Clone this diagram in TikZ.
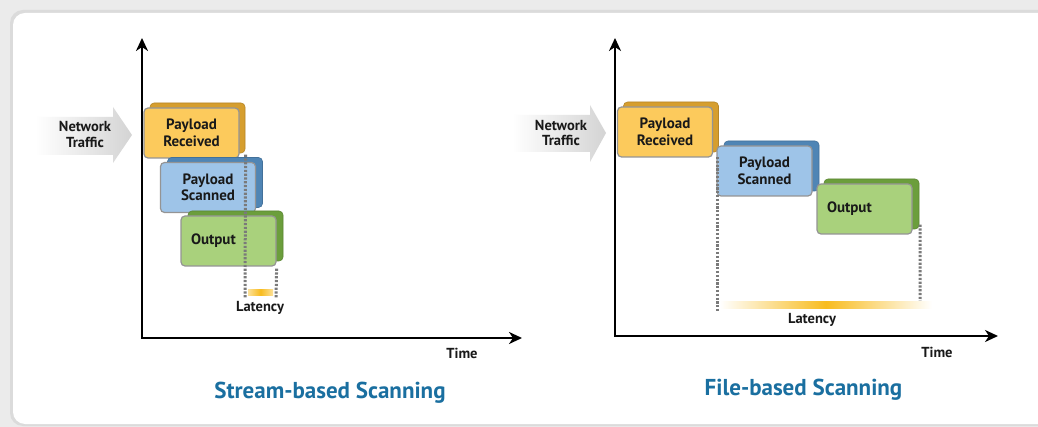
\documentclass[tikz,border=0pt]{standalone}
\usepackage{fontspec}
\setmainfont{PT Sans}
\usetikzlibrary{arrows,arrows.meta,shapes,shadows}

\definecolor{recvfill}{HTML}{FCCA5C}
\definecolor{recvside}{HTML}{D69E2E}
\definecolor{scanfill}{HTML}{9EC4E8}
\definecolor{scanside}{HTML}{4F85B5}
\definecolor{outfill}{HTML}{A9D17C}
\definecolor{outside}{HTML}{6B9E3C}
\definecolor{titleblue}{HTML}{1A6FA0}
\definecolor{latorange}{HTML}{F8BC1E}

\begin{document}
\begin{tikzpicture}[x=1pt,y=-1pt,>={Stealth[length=13pt,width=12pt,inset=4pt]}]
  \tikzstyle{box}=[rectangle,rounded corners=4pt,draw=black!42,line width=1.2pt,minimum width=95pt,minimum height=50pt,inner sep=0pt,align=center,text=black!90,font=\fontsize{15}{16.5}\selectfont\bfseries]
  \tikzstyle{recv}=[box,fill=recvfill,copy shadow={shadow xshift=6pt,shadow yshift=5pt,fill=recvside,draw=recvside!85!black,line width=0.6pt}]
  \tikzstyle{scan}=[box,fill=scanfill,copy shadow={shadow xshift=7pt,shadow yshift=5pt,fill=scanside,draw=scanside!85!black,line width=0.6pt}]
  \tikzstyle{outp}=[box,fill=outfill,align=left,text width=75pt,inner xsep=10pt,copy shadow={shadow xshift=7pt,shadow yshift=5pt,fill=outside,draw=outside!85!black,line width=0.6pt}]
  \tikzstyle{axis}=[line width=2.4pt,black]
  \tikzstyle{dots}=[line width=3pt,black!52,dash pattern=on 2.2pt off 1.6pt]
  \tikzstyle{lbl}=[font=\fontsize{14.5}{15.5}\selectfont\bfseries,text=black!90,align=center,inner sep=0pt]
  \tikzstyle{title}=[font=\fontsize{23}{26}\selectfont\bfseries,text=titleblue,inner sep=0pt]

  % backdrop
  \useasboundingbox (0,0) rectangle (1038,427);
  \fill[black!8] (0,0) rectangle (1038,427);
  \fill[black!14,rounded corners=13pt] (10,10) rectangle (1060,426);
  \fill[white,rounded corners=12pt] (13,13) rectangle (1060,424);

  % stream-based
  \path[left color=white,right color=black!17] (35,117) -- (113,117) -- (113,107) -- (132,135)
      -- (113,163) -- (113,155) -- (35,155) -- cycle;
  \node [lbl] (net1) at (85,134.5) {Network\\Traffic};
  \coordinate (o1) at (142,338);
  \coordinate (y1) at (142,38);
  \coordinate (x1) at (522,338);
  \draw[axis,<->] (y1) -- (o1) -- (x1);

  \node [recv] (recv1) at (191.5,133) {Payload\\Received};
  \node [scan] (scan1) at (208,187.5) {Payload\\Scanned};
  \node [outp] (out1) at (228.5,241) {Output};

  \coordinate (lat1a) at (245,298);
  \coordinate (lat1b) at (276,298);
  \draw[dots] ([xshift=6pt,yshift=4pt]recv1.south east) -- (lat1a);
  \draw[dots] ([yshift=-2pt]out1.south east) -- (lat1b);
  \fill[left color=latorange!45,right color=latorange!45,middle color=latorange] (248,290) rectangle (273,296);
  \node [lbl] (lat1) at (260,308) {Latency};
  \node [lbl] (time1) at (462,353) {Time};
  \node [title] (t1) at (330,393) {Stream-based Scanning};

  % file-based
  \path[left color=white,right color=black!17] (512,115) -- (590,115) -- (590,105) -- (606,133)
      -- (590,162) -- (590,152) -- (512,152) -- cycle;
  \node [lbl] (net2) at (561,133) {Network\\Traffic};
  \coordinate (o2) at (615,336);
  \coordinate (y2) at (615,38);
  \coordinate (x2) at (998,336);
  \draw[axis,<->] (y2) -- (o2) -- (x2);

  \node [recv] (recv2) at (665,132) {Payload\\Received};
  \node [scan] (scan2) at (764.5,171) {Payload\\Scanned};
  \node [outp] (out2) at (864.5,209) {Output};

  \coordinate (lat2a) at (717,311);
  \coordinate (lat2b) at (920,307);
  \draw[dots] (717,157) -- (lat2a);
  \draw[dots] ([xshift=7.5pt,yshift=10pt]out2.south east) -- (lat2b);
  \fill[left color=white,right color=white,middle color=latorange] (720,302) rectangle (932,309);
  \node [lbl] (lat2) at (812,320) {Latency};
  \node [lbl] (time2) at (937,352) {Time};
  \node [title] (t2) at (803.5,390) {File-based Scanning};
\end{tikzpicture}
\end{document}
